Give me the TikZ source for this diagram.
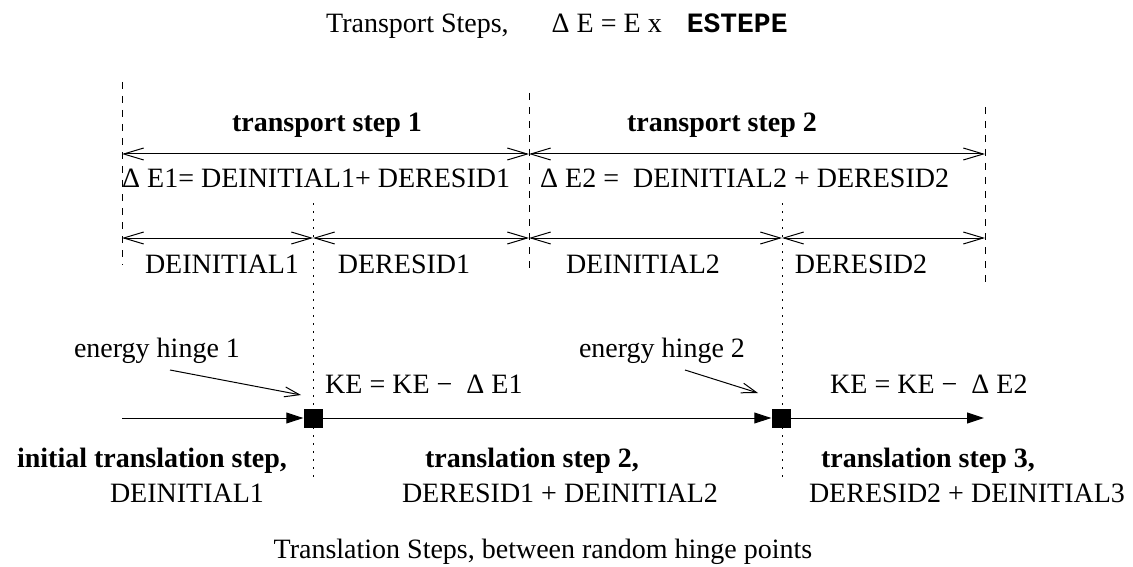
\documentclass[tikz,border=0pt]{standalone}
\usepackage{fontspec}
\setmainfont{Liberation Serif}
\setmonofont{Liberation Mono}
\usetikzlibrary{arrows.meta}
\begin{document}
\begin{tikzpicture}[x=1pt,y=-1pt,
  lbl/.style={font=\fontsize{28}{32}\selectfont, inner sep=0pt, anchor=base},
  blbl/.style={lbl, font=\fontsize{28}{32}\selectfont\bfseries},
  span/.style={line width=1pt, {Straight Barb[length=20pt,width=12pt]}-{Straight Barb[length=20pt,width=12pt]}},
  bound/.style={line width=1pt, dash pattern=on 7pt off 7pt},
  hingeline/.style={line width=1pt, dash pattern=on 1.5pt off 6.5pt},
  axis/.style={line width=1pt, -{Triangle[length=17pt,width=11pt]}},
  lead/.style={line width=1pt, -{Straight Barb[length=15pt,width=10pt]}},
  hinge/.style={fill=black, draw=none, minimum size=19pt, inner sep=0pt}]
\useasboundingbox (0,0) rectangle (1133,567);

% title
\node[lbl, anchor=base west] (title) at (326,33) {Transport Steps,\hspace{43pt}Δ E = E x\hspace{25pt}{\ttfamily\bfseries ESTEPE}};

% boundary coordinates
\coordinate (b1t) at (122,82);  \coordinate (b1b) at (122,265);
\coordinate (b2t) at (529,93);  \coordinate (b2b) at (529,275);
\coordinate (b3t) at (985,107); \coordinate (b3b) at (985,285);
\draw[bound] (b1t) -- (b1b);
\draw[bound] (b2t) -- (b2b);
\draw[bound] (b3t) -- (b3b);

% hinge dotted lines
\coordinate (d1t) at (313,203); \coordinate (d1b) at (313,483);
\coordinate (d2t) at (782,203); \coordinate (d2b) at (782,483);
\draw[hingeline] (d1t) -- (d1b);
\draw[hingeline] (d2t) -- (d2b);

% transport step arrows
\coordinate (r1a) at (122,154); \coordinate (r1b) at (529,154); \coordinate (r1c) at (985,154);
\draw[span] (r1a) -- (r1b);
\draw[span] (r1b) -- (r1c);
\node[blbl] (ts1) at (327,132) {transport step 1};
\node[blbl] (ts2) at (722,132) {transport step 2};
\node[lbl, anchor=base west] (de1) at (122,188) {Δ E1= DEINITIAL1+ DERESID1};
\node[lbl, anchor=base west] (de2) at (540,188) {Δ E2 =\ \ DEINITIAL2 + DERESID2};

% sub-step arrows
\coordinate (r2a) at (122,238); \coordinate (r2b) at (313,238); \coordinate (r2c) at (529,238);
\coordinate (r2d) at (782,238); \coordinate (r2e) at (985,238);
\draw[span] (r2a) -- (r2b);
\draw[span] (r2b) -- (r2c);
\draw[span] (r2c) -- (r2d);
\draw[span] (r2d) -- (r2e);
\node[lbl] (di1) at (222,273) {DEINITIAL1};
\node[lbl] (dr1) at (404,273) {DERESID1};
\node[lbl] (di2) at (643,273) {DEINITIAL2};
\node[lbl] (dr2) at (861,273) {DERESID2};

% translation axis
\node[hinge] (h1) at (313,418) {};
\node[hinge] (h2) at (781,418) {};
\coordinate (ax0) at (122,418);
\coordinate (ax3) at (984,418);
\draw[axis] (ax0) -- (h1);
\draw[axis] (h1) -- (h2);
\draw[axis] (h2) -- (ax3);

% hinge labels
\node[lbl] (eh1) at (157,357) {energy hinge 1};
\node[lbl] (eh2) at (662,357) {energy hinge 2};
\coordinate (l1s) at (170,370); \coordinate (l1e) at (301,395);
\coordinate (l2s) at (685,370); \coordinate (l2e) at (758,393);
\draw[lead] (l1s) -- (l1e);
\draw[lead] (l2s) -- (l2e);

\node[lbl, anchor=base west] (ke1) at (325,393) {KE = KE −\ \ Δ E1};
\node[lbl, anchor=base west] (ke2) at (830,393) {KE = KE −\ \ Δ E2};

% translation steps
\node[blbl] (tr1) at (152,467) {initial translation step,};
\node[blbl] (tr2) at (532,467) {translation step 2,};
\node[blbl] (tr3) at (928,467) {translation step 3,};
\node[lbl] (tv1) at (187,502) {DEINITIAL1};
\node[lbl] (tv2) at (560,502) {DERESID1 + DEINITIAL2};
\node[lbl] (tv3) at (967,502) {DERESID2 + DEINITIAL3};

\node[lbl] (cap) at (543,558) {Translation Steps, between random hinge points};
\end{tikzpicture}
\end{document}
